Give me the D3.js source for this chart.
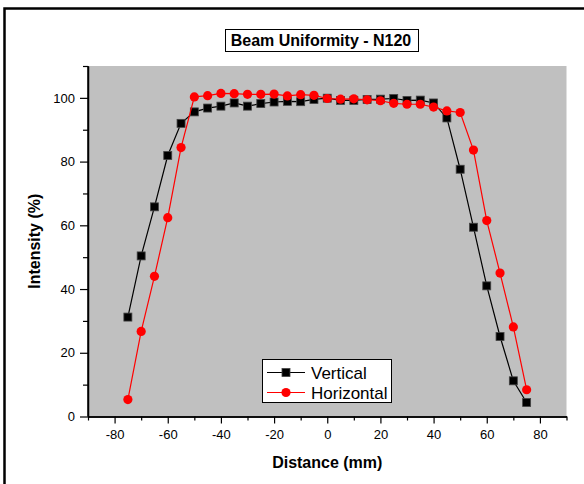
<!DOCTYPE html>
<html>
<head>
<meta charset="utf-8">
<script src="https://cdn.jsdelivr.net/npm/d3@7"></script>
<style>
  html, body { margin: 0; padding: 0; background: #fff; }
  svg { display: block; font-family: "Liberation Sans", Arial, sans-serif; }
</style>
</head>
<body>
<svg id="chart" width="584" height="484"></svg>
<script>
// Beam profile positions (mm)
const distance = [-75, -70, -65, -60, -55, -50, -45, -40, -35, -30, -25, -20, -15, -10, -5,
                  0, 5, 10, 15, 20, 25, 30, 35, 40, 45, 50, 55, 60, 65, 70, 75];
// Relative intensity (%) along the vertical scan
const vertical = [31.2, 50.4, 65.8, 81.9, 92.0, 95.6, 96.8, 97.4, 98.4, 97.4, 98.2, 98.7, 98.9, 98.8, 99.5,
                  99.9, 99.2, 99.2, 99.5, 99.6, 99.8, 99.2, 99.3, 98.4, 93.7, 77.6, 59.4, 41.0, 25.1, 11.2, 4.4];
// Relative intensity (%) along the horizontal scan
const horizontal = [5.3, 26.7, 44.0, 62.4, 84.4, 100.3, 100.7, 101.4, 101.3, 101.1, 101.1, 101.2, 100.6, 101.0, 100.8,
                    99.8, 99.6, 99.7, 99.4, 99.1, 98.3, 98.0, 98.0, 97.1, 95.9, 95.4, 83.6, 61.5, 45.0, 28.1, 8.4];

const xMajor = [-80, -60, -40, -20, 0, 20, 40, 60, 80];
const xMinor = [-90, -70, -50, -30, -10, 10, 30, 50, 70, 90];
const yMajor = [0, 20, 40, 60, 80, 100];
const yMinor = [10, 30, 50, 70, 90, 110];

const seriesNames = ["Vertical", "Horizontal"];
const titleText = "Beam Uniformity - N120";

const svg = d3.select("#chart");
const font = '"Liberation Sans", Arial, sans-serif';
const plain = d => String(d);

// Outer frame
svg.append("rect")
  .attr("x", 4.5).attr("y", 8.5)
  .attr("width", 640).attr("height", 520)
  .attr("fill", "none").attr("stroke", "#000").attr("stroke-width", 2.5);

const plot = { left: 88, right: 566.5, top: 66, bottom: 416.5 };

const x = d3.scaleLinear().domain([-90, 90]).range([plot.left, plot.right]);
const y = d3.scaleLinear().domain([0, 110]).range([plot.bottom, plot.top]);

// Plot background
svg.append("rect")
  .attr("x", plot.left).attr("y", plot.top)
  .attr("width", plot.right - plot.left).attr("height", plot.bottom - plot.top)
  .attr("fill", "#c0c0c0");

// Bottom axis
const gx = svg.append("g").attr("transform", `translate(0,${plot.bottom})`);
gx.call(d3.axisBottom(x).tickValues(xMajor).tickSize(7).tickSizeOuter(0).tickPadding(6).tickFormat(plain));
gx.append("g").call(d3.axisBottom(x).tickValues(xMinor).tickSize(4).tickSizeOuter(0).tickFormat(""));

// Left axis
const gy = svg.append("g").attr("transform", `translate(${plot.left},0)`);
gy.call(d3.axisLeft(y).tickValues(yMajor).tickSize(8).tickSizeOuter(0).tickPadding(5).tickFormat(plain));
gy.append("g").call(d3.axisLeft(y).tickValues(yMinor).tickSize(5).tickSizeOuter(0).tickFormat(""));

svg.selectAll(".domain").attr("stroke", "#000").attr("stroke-width", 1.5);
svg.selectAll(".tick line").attr("stroke", "#000").attr("stroke-width", 1.2);
svg.selectAll(".tick text")
  .attr("font-family", font).attr("font-size", 13).attr("fill", "#000");
// Y axis line spans the full plot height
gy.select(".domain").attr("d", `M0,${plot.bottom}V${plot.top}`);

// Axis titles
svg.append("text")
  .attr("x", (plot.left + plot.right) / 2).attr("y", 468)
  .attr("text-anchor", "middle")
  .attr("font-family", font).attr("font-size", 16).attr("font-weight", "bold")
  .text("Distance (mm)");

svg.append("text")
  .attr("transform", `translate(40,${(plot.top + plot.bottom) / 2}) rotate(-90)`)
  .attr("text-anchor", "middle")
  .attr("font-family", font).attr("font-size", 16).attr("font-weight", "bold")
  .text("Intensity (%)");

// Title with box
const tg = svg.append("g");
const titleBox = tg.append("rect")
  .attr("fill", "#fff").attr("stroke", "#000").attr("stroke-width", 1);
const title = tg.append("text")
  .attr("x", 321).attr("y", 46)
  .attr("text-anchor", "middle")
  .attr("font-family", font).attr("font-size", 16).attr("font-weight", "bold")
  .text(titleText);
const tb = title.node().getBBox();
titleBox
  .attr("x", Math.round(tb.x - 6) + 0.5).attr("y", 29.5)
  .attr("width", Math.round(tb.width + 12)).attr("height", 22);

// Series
const line = d3.line().x(d => x(d[0])).y(d => y(d[1]));
const vData = distance.map((d, i) => [d, vertical[i]]);
const hData = distance.map((d, i) => [d, horizontal[i]]);

svg.append("path").datum(vData)
  .attr("d", line).attr("fill", "none").attr("stroke", "#000").attr("stroke-width", 1.2);
svg.append("g").selectAll("rect").data(vData).join("rect")
  .attr("x", d => x(d[0]) - 4).attr("y", d => y(d[1]) - 4)
  .attr("width", 8).attr("height", 8)
  .attr("fill", "#000").attr("stroke", "#444").attr("stroke-width", 0.8);

svg.append("path").datum(hData)
  .attr("d", line).attr("fill", "none").attr("stroke", "#ff0000").attr("stroke-width", 1.2);
svg.append("g").selectAll("circle").data(hData).join("circle")
  .attr("cx", d => x(d[0])).attr("cy", d => y(d[1]))
  .attr("r", 4.6)
  .attr("fill", "#ff0000");

// Legend
const lg = svg.append("g");
lg.append("rect")
  .attr("x", 262.5).attr("y", 359.5).attr("width", 129).attr("height", 43)
  .attr("fill", "#fff").attr("stroke", "#000").attr("stroke-width", 1);
const rows = [
  { name: seriesNames[0], color: "#000", cy: 372.5 },
  { name: seriesNames[1], color: "#ff0000", cy: 392.5 }
];
rows.forEach((r, i) => {
  lg.append("line")
    .attr("x1", 267).attr("x2", 305).attr("y1", r.cy).attr("y2", r.cy)
    .attr("stroke", r.color).attr("stroke-width", 1.2);
  if (i === 0) {
    lg.append("rect").attr("x", 282).attr("y", r.cy - 4).attr("width", 8).attr("height", 8)
      .attr("fill", "#000").attr("stroke", "#444").attr("stroke-width", 0.8);
  } else {
    lg.append("circle").attr("cx", 286).attr("cy", r.cy).attr("r", 4.6).attr("fill", "#ff0000");
  }
  lg.append("text")
    .attr("x", 311).attr("y", r.cy + 6)
    .attr("font-family", font).attr("font-size", 17).attr("fill", "#000")
    .text(r.name);
});
</script>
</body>
</html>
